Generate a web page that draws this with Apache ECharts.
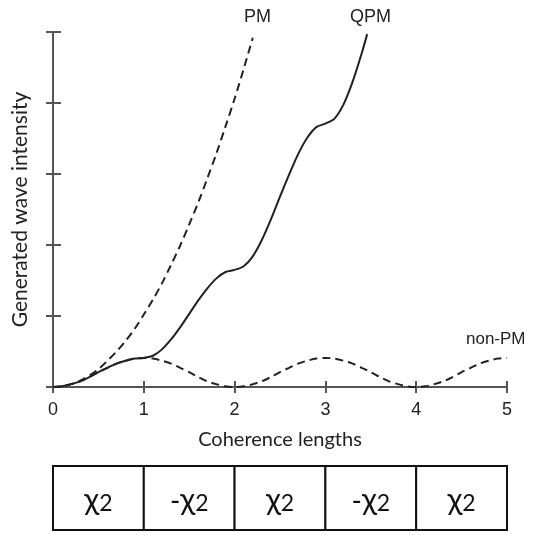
<!DOCTYPE html>
<html>
<head>
<meta charset="utf-8">
<script src="https://cdn.jsdelivr.net/npm/echarts@6/dist/echarts.min.js"></script>
<style>
html, body { margin: 0; padding: 0; background: #fff; }
#main { width: 537px; height: 535px; }
</style>
</head>
<body>
<div id="main"></div>
<script>
// coherence lengths (x) and intensities
var xTicks = [0, 1, 2, 3, 4, 5];
var lenSteps = [0, 0.1, 0.2, 0.3, 0.4, 0.5, 0.6, 0.7, 0.8, 0.9, 1.0,
    1.1, 1.2, 1.3, 1.4, 1.5, 1.6, 1.7, 1.8, 1.9, 2.0,
    2.1, 2.2, 2.3, 2.4, 2.5, 2.6, 2.7, 2.8, 2.9, 3.0,
    3.1, 3.2, 3.3, 3.4, 3.5, 3.6, 3.7, 3.8, 3.9, 4.0,
    4.1, 4.2, 4.3, 4.4, 4.5, 4.6, 4.7, 4.8, 4.9, 5.0];

var pmVal = [0, 0.01, 0.04, 0.09, 0.16, 0.25, 0.37, 0.50, 0.65, 0.82, 1.02,
    1.23, 1.46, 1.72, 1.99, 2.29, 2.60, 2.94, 3.29, 3.67, 4.06,
    4.48, 4.92];

var qpmLen = [0, 0.1, 0.2, 0.3, 0.4, 0.5, 0.6, 0.7, 0.8, 0.9, 1.0,
    1.1, 1.2, 1.3, 1.4, 1.5, 1.6, 1.7, 1.8, 1.9, 2.0,
    2.1, 2.2, 2.3, 2.4, 2.5, 2.6, 2.7, 2.8, 2.9, 3.0,
    3.1, 3.2, 3.3, 3.4, 3.46];
var qpmVal = [0, 0.01, 0.04, 0.08, 0.14, 0.21, 0.27, 0.33, 0.37, 0.40, 0.41,
    0.44, 0.53, 0.67, 0.84, 1.03, 1.22, 1.39, 1.53, 1.62, 1.65,
    1.70, 1.84, 2.07, 2.36, 2.68, 2.99, 3.28, 3.51, 3.66, 3.71,
    3.78, 3.98, 4.30, 4.70, 4.97];

var nonPmVal = [0, 0.01, 0.04, 0.08, 0.14, 0.21, 0.27, 0.33, 0.37, 0.40, 0.41,
    0.40, 0.37, 0.33, 0.27, 0.21, 0.14, 0.08, 0.04, 0.01, 0,
    0.01, 0.04, 0.08, 0.14, 0.21, 0.27, 0.33, 0.37, 0.40, 0.41,
    0.40, 0.37, 0.33, 0.27, 0.21, 0.14, 0.08, 0.04, 0.01, 0,
    0.01, 0.04, 0.08, 0.14, 0.21, 0.27, 0.33, 0.37, 0.40, 0.41];

// domain signs for the table under the axis
var cellSign = ['', '-', '', '-', ''];

function pairs(xs, ys) {
    var out = [];
    for (var i = 0; i < ys.length; i++) {
        out.push([xs[i], ys[i]]);
    }
    return out;
}

var axisColor = '#555';
var lineColor = '#222';
var calibri = 'Lato, Carlito, "Open Sans", sans-serif';
var arial = '"Liberation Sans", Arial, sans-serif';

var chart = echarts.init(document.getElementById('main'), null, {renderer: 'canvas'});

var xBase = {
    type: 'value', min: 0, max: 5, interval: 1, position: 'bottom',
    axisLine: {show: true, onZero: false, lineStyle: {color: axisColor, width: 2}},
    splitLine: {show: false}
};
var yBase = {
    type: 'value', min: 0, max: 5, interval: 1, position: 'left',
    axisLine: {show: true, onZero: false, lineStyle: {color: axisColor, width: 2}},
    splitLine: {show: false}
};

var option = {
    animation: false,
    backgroundColor: '#fff',
    grid: {left: 53, right: 30, top: 32, bottom: 148},
    xAxis: [
        echarts.util.merge({
            axisTick: {show: true, inside: false, length: 6, lineStyle: {color: axisColor, width: 2}},
            axisLabel: {show: true, margin: 14, color: '#222', fontSize: 18, fontFamily: arial,
                formatter: function (v) { return xTicks.indexOf(v) >= 0 ? String(v) : ''; }},
            name: 'Coherence lengths', nameLocation: 'middle', nameGap: 43,
            nameTextStyle: {color: '#222', fontSize: 20, fontFamily: calibri}
        }, xBase, true),
        echarts.util.merge({
            axisTick: {show: true, inside: true, length: 6, lineStyle: {color: axisColor, width: 2}},
            axisLabel: {show: false}
        }, xBase, true)
    ],
    yAxis: [
        echarts.util.merge({
            axisTick: {show: true, inside: false, length: 7, lineStyle: {color: axisColor, width: 2}},
            axisLabel: {show: false},
            name: 'Generated wave intensity', nameLocation: 'middle', nameGap: 22,
            nameTextStyle: {color: '#222', fontSize: 21, fontFamily: calibri}
        }, yBase, true),
        echarts.util.merge({
            axisTick: {show: true, inside: true, length: 8, lineStyle: {color: axisColor, width: 2}},
            axisLabel: {show: false}
        }, yBase, true)
    ],
    series: [
        {
            name: 'PM', type: 'line', xAxisIndex: 0, yAxisIndex: 0,
            data: pairs(lenSteps, pmVal), showSymbol: false, smooth: 0.3,
            lineStyle: {color: lineColor, width: 2, type: [8, 5]}
        },
        {
            name: 'non-PM', type: 'line', xAxisIndex: 0, yAxisIndex: 0,
            data: pairs(lenSteps, nonPmVal), showSymbol: false, smooth: 0.3,
            lineStyle: {color: lineColor, width: 2, type: [8, 5]}
        },
        {
            name: 'QPM', type: 'line', xAxisIndex: 0, yAxisIndex: 0,
            data: pairs(qpmLen, qpmVal), showSymbol: false, smooth: 0.3,
            lineStyle: {color: lineColor, width: 2}
        }
    ],
    graphic: [
        {type: 'text', left: 244, top: 8, style: {text: 'PM', fill: '#222', font: '18px ' + arial}},
        {type: 'text', left: 350, top: 8, style: {text: 'QPM', fill: '#222', font: '18px ' + arial}},
        {type: 'text', left: 466, top: 331, style: {text: 'non-PM', fill: '#222', font: '17px ' + arial}}
    ]
};
chart.setOption(option);

// table of domain signs, cell edges follow the x axis ticks
var tableTop = 466, tableH = 64;
var cells = [];
for (var i = 0; i < cellSign.length; i++) {
    var x0 = chart.convertToPixel({xAxisIndex: 0}, i);
    var x1 = chart.convertToPixel({xAxisIndex: 0}, i + 1);
    cells.push({
        type: 'rect', z: 10,
        shape: {x: x0, y: tableTop, width: x1 - x0, height: tableH},
        style: {fill: '#fff', stroke: '#111', lineWidth: 2}
    });
    cells.push({
        type: 'text', z: 11,
        x: (x0 + x1) / 2, y: tableTop + tableH / 2 + 2,
        style: {
            text: '{s|' + cellSign[i] + '}{c|χ}{d|2}',
            align: 'center', verticalAlign: 'middle',
            rich: {
                s: {fontSize: 28, fontFamily: calibri, fill: '#111', verticalAlign: 'bottom'},
                c: {fontSize: 31, fontFamily: calibri, fill: '#111', verticalAlign: 'bottom'},
                d: {fontSize: 23, fontFamily: calibri, fill: '#111', verticalAlign: 'bottom'}
            }
        }
    });
}
chart.setOption({graphic: option.graphic.concat(cells)});
</script>
</body>
</html>
